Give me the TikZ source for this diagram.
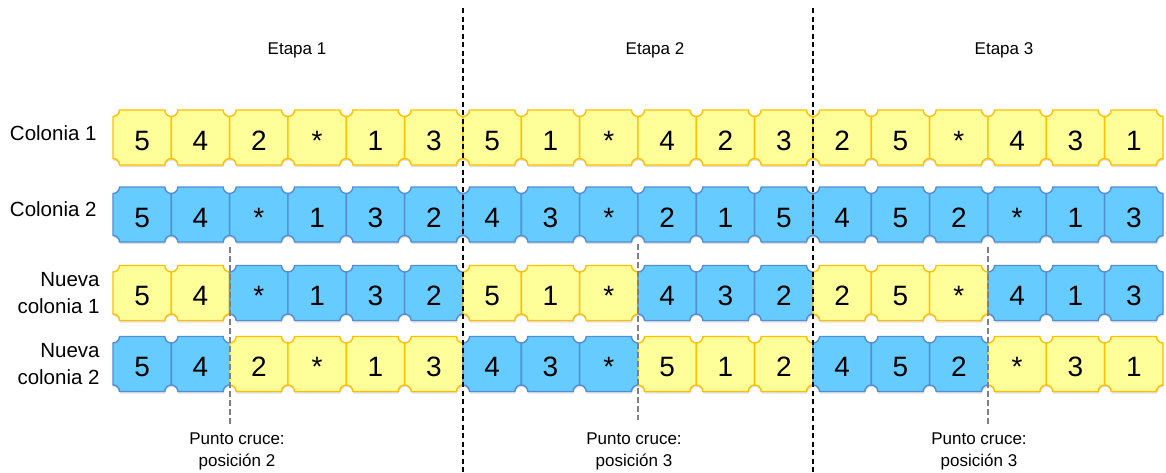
\documentclass[tikz,border=0pt]{standalone}
\usepackage{fontspec}
\setmainfont{Liberation Sans}
\usepackage{xcolor}
\usepackage{tikz}
\usetikzlibrary{positioning,shadows}
\definecolor{tileyellow}{RGB}{255,255,153}
\definecolor{tileorange}{RGB}{255,192,0}
\definecolor{tileblue}{RGB}{102,204,255}
\definecolor{tileedge}{RGB}{84,141,212}

% ticket-like tile: centre x, centre y, style
\newcommand{\tileshape}[3]{%
  \path[#3] (#1,#2) ++(-22.67,27.5) -- ++(45.33,0)
    arc[start angle=180,end angle=270,radius=6.5pt] -- ++(0,-42)
    arc[start angle=90,end angle=180,radius=6.5pt] -- ++(-45.33,0)
    arc[start angle=0,end angle=90,radius=6.5pt] -- ++(0,42)
    arc[start angle=270,end angle=360,radius=6.5pt] -- cycle;}

\begin{document}
\begin{tikzpicture}[x=1pt, y=1pt,
  ylw/.style={fill=tileyellow, draw=tileorange, line width=1.4pt, drop shadow={shadow xshift=0.5pt, shadow yshift=-2pt, opacity=.25}},
  blu/.style={fill=tileblue, draw=tileedge, line width=1.4pt, drop shadow={shadow xshift=0.5pt, shadow yshift=-2pt, opacity=.25}},
  num/.style={font=\fontsize{28}{30}\selectfont, minimum width=58.33pt, minimum height=55pt, inner sep=0pt, text height=25pt, text depth=0pt},
  lbl/.style={font=\fontsize{20.5}{27}\selectfont, align=right, inner sep=0pt},
  stage/.style={font=\fontsize{17}{22}\selectfont, align=center, inner sep=0pt},
  cut/.style={black!50, line width=1.1pt, dash pattern=on 6pt off 3pt},
  sep/.style={black, line width=1.4pt, dash pattern=on 5pt off 3.5pt}]
\useasboundingbox (0,0) rectangle (1166,-472);

% parents
\foreach \v [count=\i] in {5,4,2,*,1,3,5,1,*,4,2,3,2,5,*,4,3,1}{
  \pgfmathsetmacro\x{113+58.333*(\i-0.5)}
  \tileshape{\x}{-137.5}{ylw}
  \node[num] (c1-\i) at (\x,-137.5) {\v};
}
\foreach \v [count=\i] in {5,4,*,1,3,2,4,3,*,2,1,5,4,5,2,*,1,3}{
  \pgfmathsetmacro\x{113+58.333*(\i-0.5)}
  \tileshape{\x}{-214.5}{blu}
  \node[num] (c2-\i) at (\x,-214.5) {\v};
}
% children
\foreach \v/\s [count=\i] in {5/ylw,4/ylw,*/blu,1/blu,3/blu,2/blu,5/ylw,1/ylw,*/ylw,4/blu,3/blu,2/blu,2/ylw,5/ylw,*/ylw,4/blu,1/blu,3/blu}{
  \pgfmathsetmacro\x{113+58.333*(\i-0.5)}
  \tileshape{\x}{-293}{\s}
  \node[num] (n1-\i) at (\x,-293) {\v};
}
\foreach \v/\s [count=\i] in {5/blu,4/blu,2/ylw,*/ylw,1/ylw,3/ylw,4/blu,3/blu,*/blu,5/ylw,1/ylw,2/ylw,4/blu,5/blu,2/blu,*/ylw,3/ylw,1/ylw}{
  \pgfmathsetmacro\x{113+58.333*(\i-0.5)}
  \tileshape{\x}{-364}{\s}
  \node[num] (n2-\i) at (\x,-364) {\v};
}

\node[lbl, left=16pt of c1-1, yshift=4pt] (col1) {Colonia 1};
\node[lbl, left=16pt of c2-1, yshift=5pt] (col2) {Colonia 2};
\node[lbl, left=13pt of n1-1] (new1) {Nueva\\colonia 1};
\node[lbl, left=13pt of n2-1] (new2) {Nueva\\colonia 2};

\node[stage] (et1) at (297,-50) {Etapa 1};
\node[stage] (et2) at (655,-50) {Etapa 2};
\node[stage] (et3) at (1004,-50) {Etapa 3};

% crossover points
\coordinate (k1a) at (230,-247); \coordinate (k1b) at (230,-424);
\coordinate (k2a) at (638,-244); \coordinate (k2b) at (638,-420);
\coordinate (k3a) at (988,-247); \coordinate (k3b) at (988,-424);
\draw[cut] (k1a) -- (k1b);
\draw[cut] (k2a) -- (k2b);
\draw[cut] (k3a) -- (k3b);
\node[stage] (pc1) at (237,-451) {Punto cruce:\\posición 2};
\node[stage] (pc2) at (634,-451) {Punto cruce:\\posición 3};
\node[stage] (pc3) at (979,-451) {Punto cruce:\\posición 3};

% stage separators
\coordinate (s1a) at (463,-8); \coordinate (s1b) at (463,-472);
\coordinate (s2a) at (813,-8); \coordinate (s2b) at (813,-472);
\draw[sep] (s1a) -- (s1b);
\draw[sep] (s2a) -- (s2b);
\end{tikzpicture}
\end{document}
